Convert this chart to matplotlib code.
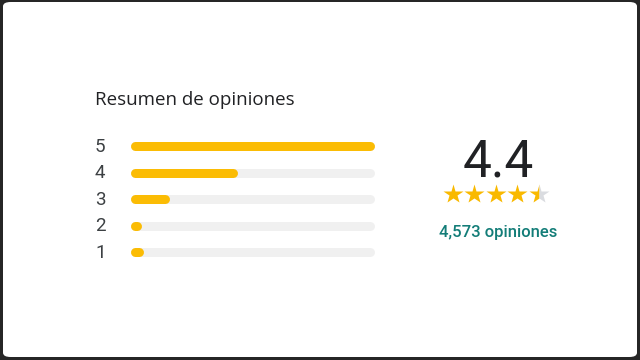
import matplotlib.pyplot as plt
from matplotlib.patches import FancyBboxPatch

plt.rcParams['font.family'] = ['Roboto', 'DejaVu Sans']

# datos del resumen
titulo = "Resumen de opiniones"
estrellas = [5, 4, 3, 2, 1]
proporcion = [1.0, 0.42, 0.13, 0.01, 0.02]   # largo relativo de cada barra
calificacion = 4.4
total_opiniones = "4,573 opiniones"

W, H = 640, 360
fig = plt.figure(figsize=(W / 100, H / 100), dpi=100)
fig.patch.set_facecolor('#262626')

# tarjeta blanca con esquinas redondeadas
marco = FancyBboxPatch((3 / W, 3 / H), (W - 6) / W, (H - 5) / H,
                       boxstyle="round,pad=0,rounding_size=0.012",
                       transform=fig.transFigure, facecolor='white',
                       edgecolor='none', zorder=-5)
fig.patches.append(marco)

fig.text(95 / W, 1 - 100 / H, titulo, fontsize=13.5, color='#202124',
         va='center', ha='left', family=['Open Sans', 'DejaVu Sans'])

# barras
x0, x1 = 134.5, 369.5
y_top, y_bot = 132.75, 265.25
ax = fig.add_axes([x0 / W, 1 - y_bot / H, (x1 - x0) / W, (y_bot - y_top) / H])
ax.set_xlim(0, 1)
ax.set_ylim(0.5, 5.5)
ax.axis('off')
lw = 9 * 72 / 100
for e, p in zip(estrellas, proporcion):
    ax.plot([0, 1], [e, e], color='#f0f0f0', lw=lw, solid_capstyle='round',
            clip_on=False)
    ax.plot([0, p], [e, e], color='#fbbc04', lw=lw, solid_capstyle='round',
            clip_on=False)
    ax.text(-39.5 / (x1 - x0), e - 0.03, str(e), fontsize=13.5,
            color='#3c4043', ha='left', va='center')

# calificación promedio
fig.text(498 / W, 1 - 163 / H, f"{calificacion}", fontsize=37,
         color='#202124', ha='center', va='center')

axs = fig.add_axes([440 / W, 1 - 205 / H, 120 / W, 24 / H])
axs.set_xlim(0.42, 5.98)
axs.set_ylim(0, 1)
axs.axis('off')
for i in range(1, 6):
    if calificacion >= i:
        axs.plot(i, 0.45, marker='*', ms=14.5, color='#f9b900', mec='none')
    else:
        axs.plot(i, 0.45, marker='*', ms=14.5, fillstyle='left',
                 markerfacecolor='#f9b900', markerfacecoloralt='#dadce0',
                 mec='none')

fig.text(498 / W, 1 - 233 / H, total_opiniones, fontsize=12,
         color='#137d78', ha='center', va='center', fontweight='medium')

fig.savefig('out.png', dpi=100, facecolor=fig.get_facecolor())
